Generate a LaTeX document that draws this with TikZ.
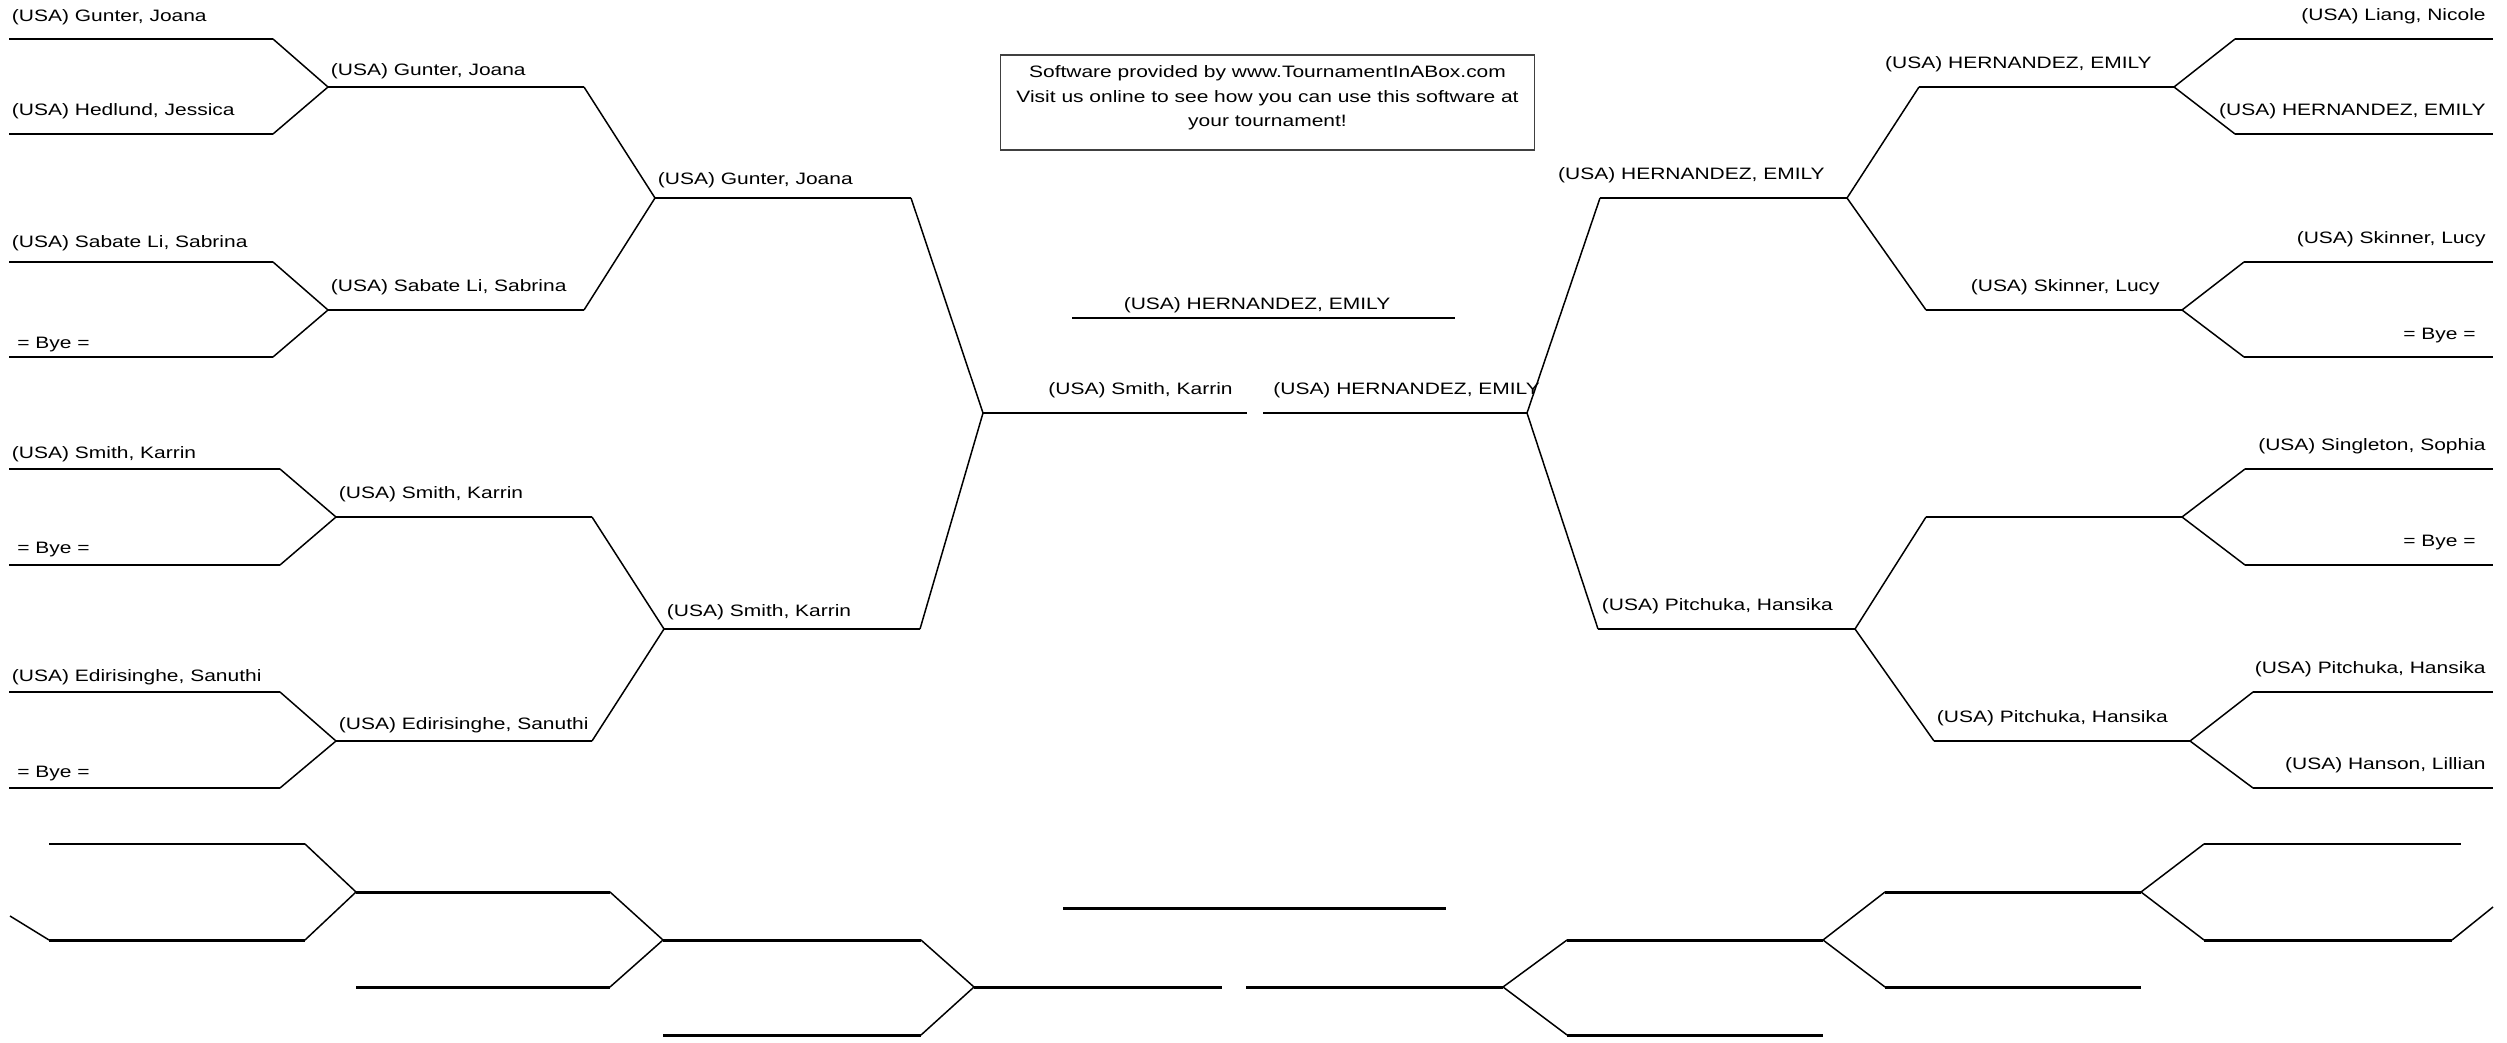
\documentclass[tikz,border=0pt]{standalone}
\usepackage{fontspec}
\newfontfamily\brfont{Liberation Sans}[FakeStretch=1.27]

\begin{document}
\begin{tikzpicture}[x=0.02cm,y=-0.02cm,
  slot/.style={line width=1.7pt},
  link/.style={line width=0.85pt},
  pname/.style={inner sep=0pt,font=\brfont\fontsize{9.4}{13.9}\selectfont},
  lname/.style={pname,anchor=base west,xshift=1.5pt,yshift=10.8pt},
  rname/.style={pname,anchor=base east,xshift=-12.5pt,yshift=10.8pt},
  ename/.style={pname,anchor=base east,xshift=-4pt,yshift=10.8pt}]
\useasboundingbox (0,0) rectangle (2507,1043);
% left half
\coordinate (la1) at (9,39);    \coordinate (la1') at (273,39);
\coordinate (la2) at (9,134);   \coordinate (la2') at (273,134);
\coordinate (la3) at (9,262);   \coordinate (la3') at (273,262);
\coordinate (la4) at (9,357);   \coordinate (la4') at (273,357);
\coordinate (la5) at (9,469);   \coordinate (la5') at (280,469);
\coordinate (la6) at (9,565);   \coordinate (la6') at (280,565);
\coordinate (la7) at (9,692);   \coordinate (la7') at (280,692);
\coordinate (la8) at (9,788);   \coordinate (la8') at (280,788);
\coordinate (lb1) at (328,87);  \coordinate (lb1') at (584,87);
\coordinate (lb2) at (328,310); \coordinate (lb2') at (584,310);
\coordinate (lb3) at (336,517); \coordinate (lb3') at (592,517);
\coordinate (lb4) at (336,741); \coordinate (lb4') at (592,741);
\coordinate (lc1) at (655,198); \coordinate (lc1') at (911,198);
\coordinate (lc2) at (664,629); \coordinate (lc2') at (920,629);
\coordinate (lf) at (983,413);  \coordinate (lf') at (1247,413);
% final and winner
\coordinate (rf) at (1263,413); \coordinate (rf') at (1527,413);
\coordinate (ch) at (1072,318); \coordinate (ch') at (1455,318);
\coordinate (chm) at (1257,318);
% right half
\coordinate (rc1) at (1600,198); \coordinate (rc1') at (1847,198);
\coordinate (rc2) at (1598,629); \coordinate (rc2') at (1855,629);
\coordinate (rb1) at (1919,87);  \coordinate (rb1') at (2174,87);
\coordinate (rb2) at (1926,310); \coordinate (rb2') at (2182,310);
\coordinate (rb3) at (1926,517); \coordinate (rb3') at (2182,517);
\coordinate (rb4) at (1934,741); \coordinate (rb4') at (2190,741);
\coordinate (ra1) at (2235,39);  \coordinate (ra1') at (2493,39);
\coordinate (ra2) at (2235,134); \coordinate (ra2') at (2493,134);
\coordinate (ra3) at (2244,262); \coordinate (ra3') at (2493,262);
\coordinate (ra4) at (2244,357); \coordinate (ra4') at (2493,357);
\coordinate (ra5) at (2245,469); \coordinate (ra5') at (2493,469);
\coordinate (ra6) at (2245,565); \coordinate (ra6') at (2493,565);
\coordinate (ra7) at (2253,692); \coordinate (ra7') at (2493,692);
\coordinate (ra8) at (2253,788); \coordinate (ra8') at (2493,788);

\draw[slot] (la1)--(la1') (la2)--(la2') (la3)--(la3') (la4)--(la4')
  (la5)--(la5') (la6)--(la6') (la7)--(la7') (la8)--(la8')
  (lb1)--(lb1') (lb2)--(lb2') (lb3)--(lb3') (lb4)--(lb4')
  (lc1)--(lc1') (lc2)--(lc2') (lf)--(lf') (rf)--(rf') (ch)--(ch')
  (rc1)--(rc1') (rc2)--(rc2')
  (rb1)--(rb1') (rb2)--(rb2') (rb3)--(rb3') (rb4)--(rb4')
  (ra1)--(ra1') (ra2)--(ra2') (ra3)--(ra3') (ra4)--(ra4')
  (ra5)--(ra5') (ra6)--(ra6') (ra7)--(ra7') (ra8)--(ra8');
\draw[link] (la1')--(lb1)--(la2') (la3')--(lb2)--(la4')
  (la5')--(lb3)--(la6') (la7')--(lb4)--(la8')
  (lb1')--(lc1)--(lb2') (lb3')--(lc2)--(lb4') (lc1')--(lf)--(lc2');
\draw[link] (ra1)--(rb1')--(ra2) (ra3)--(rb2')--(ra4)
  (ra5)--(rb3')--(ra6) (ra7)--(rb4')--(ra8)
  (rb1)--(rc1')--(rb2) (rb3)--(rc2')--(rb4) (rc1)--(rf')--(rc2);

\node[lname,yshift=-0.8pt] (nla1) at (la1) {(USA) Gunter, Joana};
\node[lname] (nla2) at (la2) {(USA) Hedlund, Jessica};
\node[lname,yshift=-2.3pt] (nla3) at (la3) {(USA) Sabate Li, Sabrina};
\node[lname,xshift=3pt,yshift=-5.7pt] (nla4) at (la4) {= Bye =};
\node[lname,yshift=-4.9pt] (nla5) at (la5) {(USA) Smith, Karrin};
\node[lname,xshift=3pt,yshift=-4.5pt] (nla6) at (la6) {= Bye =};
\node[lname,yshift=-4.9pt] (nla7) at (la7) {(USA) Edirisinghe, Sanuthi};
\node[lname,xshift=3pt,yshift=-5pt] (nla8) at (la8) {= Bye =};
\node[lname,yshift=-4.5pt] (nlb1) at (lb1) {(USA) Gunter, Joana};
\node[lname,yshift=-0.5pt] (nlb2) at (lb2) {(USA) Sabate Li, Sabrina};
\node[lname,yshift=-0.5pt] (nlb3) at (lb3) {(USA) Smith, Karrin};
\node[lname,yshift=-4.2pt] (nlb4) at (lb4) {(USA) Edirisinghe, Sanuthi};
\node[lname,yshift=-3.4pt] (nlc1) at (lc1) {(USA) Gunter, Joana};
\node[lname,yshift=-3.9pt] (nlc2) at (lc2) {(USA) Smith, Karrin};
\node[pname,anchor=base east,xshift=-8pt,yshift=10.8pt] (nlf) at (lf') {(USA) Smith, Karrin};
\node[lname,xshift=4.2pt] (nrf) at (rf) {(USA) HERNANDEZ, EMILY};
\node[pname,anchor=base,yshift=5.1pt] (nch) at (chm) {(USA) HERNANDEZ, EMILY};
\node[rname] (nrc1) at (rc1') {(USA) HERNANDEZ, EMILY};
\node[rname] (nrc2) at (rc2') {(USA) Pitchuka, Hansika};
\node[rname] (nrb1) at (rb1') {(USA) HERNANDEZ, EMILY};
\node[rname] (nrb2) at (rb2') {(USA) Skinner, Lucy};
\node[rname] (nrb4) at (rb4') {(USA) Pitchuka, Hansika};
\node[ename] (nra1) at (ra1') {(USA) Liang, Nicole};
\node[ename] (nra2) at (ra2') {(USA) HERNANDEZ, EMILY};
\node[ename] (nra3) at (ra3') {(USA) Skinner, Lucy};
\node[ename,xshift=-5.7pt,yshift=-1pt] (nra4) at (ra4') {= Bye =};
\node[ename] (nra5) at (ra5') {(USA) Singleton, Sophia};
\node[ename,xshift=-5.7pt] (nra6) at (ra6') {= Bye =};
\node[ename] (nra7) at (ra7') {(USA) Pitchuka, Hansika};
\node[ename] (nra8) at (ra8') {(USA) Hanson, Lillian};

% advert box
\node[draw=black!75,line width=0.6pt,minimum width=10.7cm,minimum height=1.9cm] (adbox) at (1267.5,102.5) {};
\node[pname,align=center,anchor=north] (adtxt) at ([yshift=-6.3pt]adbox.north)
  {Software provided by www.TournamentInABox.com\\
   Visit us online to see how you can use this software at\\
   your tournament!};

% empty bracket below
\coordinate (ba) at (49,844);    \coordinate (ba') at (305,844);
\coordinate (bb) at (49,940);    \coordinate (bb') at (305,940);
\coordinate (bx) at (10,916);
\coordinate (bc) at (356,892);   \coordinate (bc') at (610,892);
\coordinate (be) at (356,987);   \coordinate (be') at (610,987);
\coordinate (bd) at (663,940);   \coordinate (bd') at (921,940);
\coordinate (bg) at (663,1035);  \coordinate (bg') at (921,1035);
\coordinate (bf) at (974,987);   \coordinate (bf') at (1222,987);
\coordinate (bh) at (1063,908);  \coordinate (bh') at (1446,908);
\coordinate (bi) at (1246,987);  \coordinate (bi') at (1503,987);
\coordinate (bj) at (1567,940);  \coordinate (bj') at (1823,940);
\coordinate (bk) at (1567,1035); \coordinate (bk') at (1823,1035);
\coordinate (bl) at (1885,892);  \coordinate (bl') at (2141,892);
\coordinate (bm) at (1885,987);  \coordinate (bm') at (2141,987);
\coordinate (bn) at (2204,844);  \coordinate (bn') at (2461,844);
\coordinate (bo) at (2204,940);  \coordinate (bo') at (2452,940);
\coordinate (by) at (2493,907);
\draw[slot] (ba)--(ba') (bb)--(bb') (bc)--(bc') (be)--(be') (bd)--(bd')
  (bg)--(bg') (bf)--(bf') (bh)--(bh') (bi)--(bi') (bj)--(bj') (bk)--(bk')
  (bl)--(bl') (bm)--(bm') (bn)--(bn') (bo)--(bo');
\draw[link] (ba')--(bc)--(bb') (bx)--(bb) (bc')--(bd)--(be')
  (bd')--(bf)--(bg') (bj)--(bi')--(bk) (bl)--(bj')--(bm)
  (bn)--(bl')--(bo) (bo')--(by);
\end{tikzpicture}
\end{document}
